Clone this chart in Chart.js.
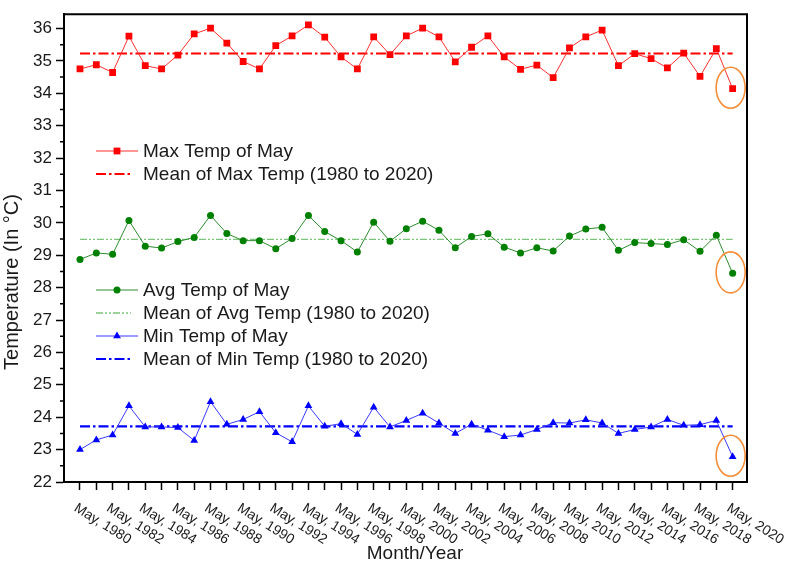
<!DOCTYPE html>
<html>
<head>
<meta charset="utf-8">
<script src="https://cdn.jsdelivr.net/npm/chart.js@4"></script>
<style>
html, body { margin: 0; padding: 0; background: #fff; }
#wrap { width: 785px; height: 564px; }
</style>
</head>
<body>
<div id="wrap"><canvas id="myChart" width="785" height="564"></canvas></div>
<script>
const years = [1980, 1981, 1982, 1983, 1984, 1985, 1986, 1987, 1988, 1989, 1990,
    1991, 1992, 1993, 1994, 1995, 1996, 1997, 1998, 1999, 2000,
    2001, 2002, 2003, 2004, 2005, 2006, 2007, 2008, 2009, 2010,
    2011, 2012, 2013, 2014, 2015, 2016, 2017, 2018, 2019, 2020];
const labelYears = [1980, 1982, 1984, 1986, 1988, 1990, 1992, 1994, 1996, 1998, 2000,
    2002, 2004, 2006, 2008, 2010, 2012, 2014, 2016, 2018, 2020];

const maxTemp = [34.75, 34.88, 34.64, 35.76, 34.85, 34.75, 35.18, 35.83, 36.01, 35.55, 34.98,
    34.75, 35.47, 35.77, 36.11, 35.73, 35.12, 34.75, 35.74, 35.19, 35.77,
    36.01, 35.74, 34.97, 35.42, 35.77, 35.12, 34.74, 34.87, 34.48, 35.40,
    35.74, 35.95, 34.85, 35.22, 35.07, 34.78, 35.24, 34.52, 35.38, 34.14];
const avgTemp = [28.87, 29.07, 29.03, 30.07, 29.28, 29.22, 29.42, 29.55, 30.23, 29.67, 29.45,
    29.45, 29.20, 29.52, 30.23, 29.73, 29.45, 29.10, 30.02, 29.43, 29.82,
    30.05, 29.77, 29.23, 29.58, 29.66, 29.25, 29.07, 29.23, 29.13, 29.59,
    29.81, 29.86, 29.15, 29.39, 29.36, 29.33, 29.48, 29.12, 29.62, 28.44];
const minTemp = [23.00, 23.30, 23.45, 24.35, 23.70, 23.70, 23.68, 23.28, 24.48, 23.78, 23.93,
    24.17, 23.52, 23.24, 24.35, 23.72, 23.80, 23.47, 24.31, 23.70, 23.90,
    24.12, 23.82, 23.50, 23.78, 23.60, 23.40, 23.45, 23.62, 23.83, 23.82,
    23.92, 23.82, 23.50, 23.62, 23.70, 23.93, 23.75, 23.77, 23.90, 22.78];

const meanMax = 35.23;
const meanAvg = 29.49;
const meanMin = 23.72;
const meanSpan = [1980, 2020];

function toPoints(values) {
    return years.map((yr, i) => ({ x: yr, y: values[i] }));
}
function meanPoints(m) {
    return meanSpan.map(yr => ({ x: yr, y: m }));
}

const FONT = '"Liberation Sans", Arial, sans-serif';

// legend rows, drawn by hand because the legend is split in groups
const legendRows = [151, 174, 290, 313, 336, 359];

const decorPlugin = {
    id: 'decor',
    afterDatasetsDraw(chart) {
        const ctx = chart.ctx;
        // orange ellipses round the 2020 values
        ctx.save();
        ctx.strokeStyle = '#f28e3c';
        ctx.lineWidth = 1.6;
        [0, 2, 4].forEach(i => {
            const pts = chart.getDatasetMeta(i).data;
            const p = pts[pts.length - 1];
            ctx.beginPath();
            ctx.ellipse(p.x - 2, p.y - 1, 14.5, 20.5, 0, 0, Math.PI * 2);
            ctx.stroke();
        });
        ctx.restore();
    },
    afterDraw(chart) {
        const ctx = chart.ctx;
        const area = chart.chartArea;
        const xs = chart.scales.x;
        const ys = chart.scales.y;

        ctx.save();
        // frame top and right
        ctx.strokeStyle = '#000';
        ctx.lineWidth = 2;
        ctx.beginPath();
        ctx.moveTo(area.left, area.top);
        ctx.lineTo(area.right, area.top);
        ctx.lineTo(area.right, area.bottom);
        ctx.stroke();

        // minor y ticks
        ctx.lineWidth = 1.5;
        ctx.beginPath();
        for (let v = 22.5; v < 36.44; v += 1) {
            const py = ys.getPixelForValue(v);
            ctx.moveTo(area.left - 4, py);
            ctx.lineTo(area.left, py);
        }
        ctx.stroke();

        // rotated x labels
        ctx.fillStyle = '#1a1a1a';
        ctx.font = '14px ' + FONT;
        ctx.textAlign = 'left';
        ctx.textBaseline = 'top';
        labelYears.forEach(yr => {
            const px = xs.getPixelForValue(yr);
            ctx.save();
            ctx.translate(px - 1, area.bottom + 19);
            ctx.rotate(32 * Math.PI / 180);
            ctx.fillText('May, ' + yr, 0, 0);
            ctx.restore();
        });

        // axis titles
        ctx.font = '19px ' + FONT;
        ctx.textAlign = 'center';
        ctx.textBaseline = 'middle';
        ctx.fillText('Month/Year', 415, 554);
        ctx.save();
        ctx.translate(12, 282);
        ctx.rotate(-Math.PI / 2);
        ctx.font = '20px ' + FONT;
        ctx.fillText('Temperature (In \u00B0C)', 0, 0);
        ctx.restore();

        // legend
        chart.data.datasets.forEach((ds, i) => {
            const y = legendRows[i];
            ctx.save();
            ctx.strokeStyle = ds.borderColor;
            ctx.lineWidth = ds.borderWidth;
            ctx.setLineDash(ds.borderDash || []);
            ctx.beginPath();
            if (ds.pointRadius > 0) {
                ctx.moveTo(96, y);
                ctx.lineTo(138, y);
            } else {
                ctx.moveTo(96, y);
                ctx.lineTo(131, y);
            }
            ctx.stroke();
            ctx.setLineDash([]);
            if (ds.pointRadius > 0) {
                ctx.fillStyle = ds.backgroundColor;
                Chart.helpers.drawPoint(ctx, {
                    pointStyle: ds.pointStyle,
                    radius: ds.pointRadius,
                    borderWidth: 0,
                    rotation: 0
                }, 117, y);
            }
            ctx.fillStyle = '#1a1a1a';
            ctx.font = '19px ' + FONT;
            ctx.textAlign = 'left';
            ctx.textBaseline = 'middle';
            ctx.fillText(ds.label, 143, y + 1);
            ctx.restore();
        });
        ctx.restore();
    }
};

const ctx = document.getElementById('myChart');
const chart = new Chart(ctx, {
    type: 'scatter',
    data: {
        datasets: [{
            label: 'Max Temp of May',
            data: toPoints(maxTemp),
            showLine: true,
            borderColor: '#ff3030',
            borderWidth: 1,
            backgroundColor: '#ff0000',
            pointBackgroundColor: '#ff0000',
            pointStyle: 'rect',
            pointRadius: 4.8,
            pointBorderWidth: 0
        }, {
            label: 'Mean of Max Temp (1980 to 2020)',
            data: meanPoints(meanMax),
            showLine: true,
            borderColor: '#ff0000',
            borderWidth: 2,
            borderDash: [10, 3, 2.5, 3],
            pointRadius: 0
        }, {
            label: 'Avg Temp of May',
            data: toPoints(avgTemp),
            showLine: true,
            borderColor: '#2e8b2e',
            borderWidth: 1,
            backgroundColor: '#008000',
            pointBackgroundColor: '#008000',
            pointStyle: 'circle',
            pointRadius: 3.5,
            pointBorderWidth: 0
        }, {
            label: 'Mean of Avg Temp (1980 to 2020)',
            data: meanPoints(meanAvg),
            showLine: true,
            borderColor: '#7cc47c',
            borderWidth: 1.3,
            borderDash: [7, 2, 2, 2, 2, 2],
            pointRadius: 0
        }, {
            label: 'Min Temp of May',
            data: toPoints(minTemp),
            showLine: true,
            borderColor: '#3a3aff',
            borderWidth: 1,
            backgroundColor: '#0000ff',
            pointBackgroundColor: '#0000ff',
            pointStyle: 'triangle',
            pointRadius: 4.5,
            pointBorderWidth: 0
        }, {
            label: 'Mean of Min Temp (1980 to 2020)',
            data: meanPoints(meanMin),
            showLine: true,
            borderColor: '#0000ff',
            borderWidth: 2.2,
            borderDash: [10, 3, 2.5, 3],
            pointRadius: 0
        }]
    },
    options: {
        responsive: false,
        animation: false,
        layout: { padding: { top: 2, right: 38, left: 0, bottom: 0 } },
        plugins: {
            legend: { display: false },
            tooltip: { enabled: false }
        },
        scales: {
            x: {
                type: 'linear',
                min: 1979.02,
                max: 2020.88,
                afterFit: s => { s.height = 82; },
                ticks: { display: false, stepSize: 1, includeBounds: false },
                grid: { drawOnChartArea: false, tickLength: 8, tickColor: '#000', tickWidth: 1.5 },
                border: { color: '#000', width: 2 }
            },
            y: {
                min: 22,
                max: 36.44,
                afterFit: s => { s.width = 64; },
                ticks: {
                    stepSize: 1,
                    includeBounds: false,
                    color: '#1a1a1a',
                    padding: 4,
                    font: { family: FONT, size: 17 }
                },
                grid: { drawOnChartArea: false, tickLength: 8, tickColor: '#000', tickWidth: 1.5 },
                border: { color: '#000', width: 2 }
            }
        }
    },
    plugins: [decorPlugin]
});
</script>
</body>
</html>
